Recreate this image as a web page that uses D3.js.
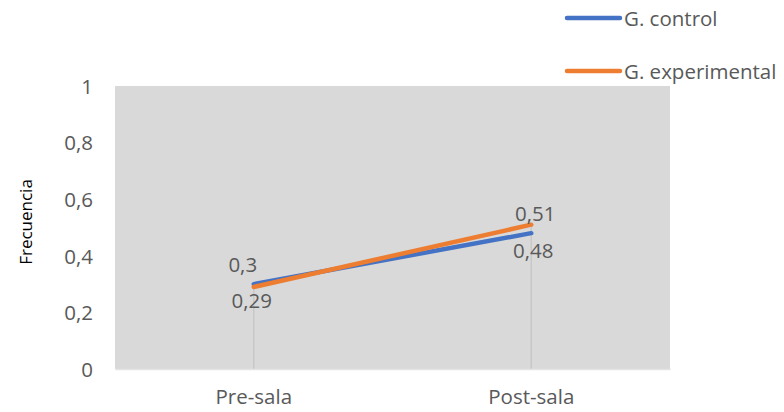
<!DOCTYPE html>
<html>
<head>
<meta charset="utf-8">
<script src="https://cdn.jsdelivr.net/npm/d3@7"></script>
<style>
  html, body { margin: 0; padding: 0; background: #fff; }
  svg text { font-family: "Open Sans", Lato, sans-serif; }
</style>
</head>
<body>
<svg id="chart" width="784" height="412"></svg>
<script>
// Frequency per group, before and after the session
const categories = ["Pre-sala", "Post-sala"];
const controlValues = [0.3, 0.48];
const experimentalValues = [0.29, 0.51];
const seriesNames = ["G. control", "G. experimental"];
const yTicks = [0, 0.2, 0.4, 0.6, 0.8, 1];

const series = [
  { name: seriesNames[0], values: controlValues, color: "#4472C4" },
  { name: seriesNames[1], values: experimentalValues, color: "#ED7D31" }
];

const svg = d3.select("#chart");
const plot = { left: 115, right: 670, top: 86, bottom: 369 };
const font = "'Open Sans', Lato, sans-serif";
const fontSize = 20.5;

const x = d3.scaleBand().domain(categories).range([plot.left, plot.right]).padding(0);
const cx = c => x(c) + x.bandwidth() / 2;
const y = d3.scaleLinear().domain([0, 1]).range([plot.bottom, plot.top]);

const textColor = "#595959";
const fmt = v => String(v).replace(".", ",");

// plot background
svg.append("rect")
  .attr("x", plot.left).attr("y", plot.top)
  .attr("width", plot.right - plot.left).attr("height", plot.bottom - plot.top)
  .attr("fill", "#D9D9D9");

// drop lines from the highest point of each category
categories.forEach((c, i) => {
  const top = d3.max(series, s => s.values[i]);
  svg.append("line")
    .attr("x1", cx(c)).attr("x2", cx(c))
    .attr("y1", y(top)).attr("y2", y(0))
    .attr("stroke", "#C8C8C8").attr("stroke-width", 1.5);
});

// y axis
const yAxis = d3.axisLeft(y).tickValues(yTicks).tickFormat(fmt).tickSize(0).tickPadding(22);
const gy = svg.append("g").attr("transform", `translate(${plot.left},0)`).call(yAxis);
gy.select(".domain").remove();
gy.selectAll("text").attr("fill", textColor).attr("font-size", fontSize)
  .attr("font-family", font).attr("dy", "0.36em");

// x axis
const xAxis = d3.axisBottom(x).tickSize(0).tickPadding(20);
const gx = svg.append("g").attr("transform", `translate(0,${plot.bottom})`).call(xAxis);
gx.select(".domain").attr("stroke", "#E4E4E4").attr("stroke-width", 1.5);
gx.selectAll("text").attr("fill", textColor).attr("font-size", fontSize)
  .attr("font-family", font);

// axis title
svg.append("text")
  .attr("transform", `translate(32,222) rotate(-90)`)
  .attr("text-anchor", "middle")
  .attr("font-size", 17)
  .attr("fill", "#000")
  .text("Frecuencia");

// lines
const line = d3.line().x((d, i) => cx(categories[i])).y(d => y(d));
series.forEach(s => {
  svg.append("path")
    .datum(s.values)
    .attr("d", line)
    .attr("fill", "none")
    .attr("stroke", s.color)
    .attr("stroke-width", 4.5)
    .attr("stroke-linecap", "round");
});

// data labels: [dx, dy] offsets of each label from its point, per series and category
const labelOffsets = [
  [[-11, -12], [2, 25]],
  [[-2, 21], [4, -4]]
];
series.forEach((s, si) => {
  s.values.forEach((v, i) => {
    const [dx, dy] = labelOffsets[si][i];
    svg.append("text")
      .attr("x", cx(categories[i]) + dx)
      .attr("y", y(v) + dy)
      .attr("text-anchor", "middle")
      .attr("font-size", fontSize)
      .attr("fill", textColor)
      .text(fmt(v));
  });
});

// legend
const legend = svg.append("g");
series.forEach((s, i) => {
  const ly = 18 + i * 53;
  legend.append("line")
    .attr("x1", 567).attr("x2", 620).attr("y1", ly).attr("y2", ly)
    .attr("stroke", s.color).attr("stroke-width", 4.5).attr("stroke-linecap", "round");
  legend.append("text")
    .attr("x", 624).attr("y", ly + 8)
    .attr("font-size", 20.5)
    .attr("fill", textColor)
    .text(s.name);
});
</script>
</body>
</html>
